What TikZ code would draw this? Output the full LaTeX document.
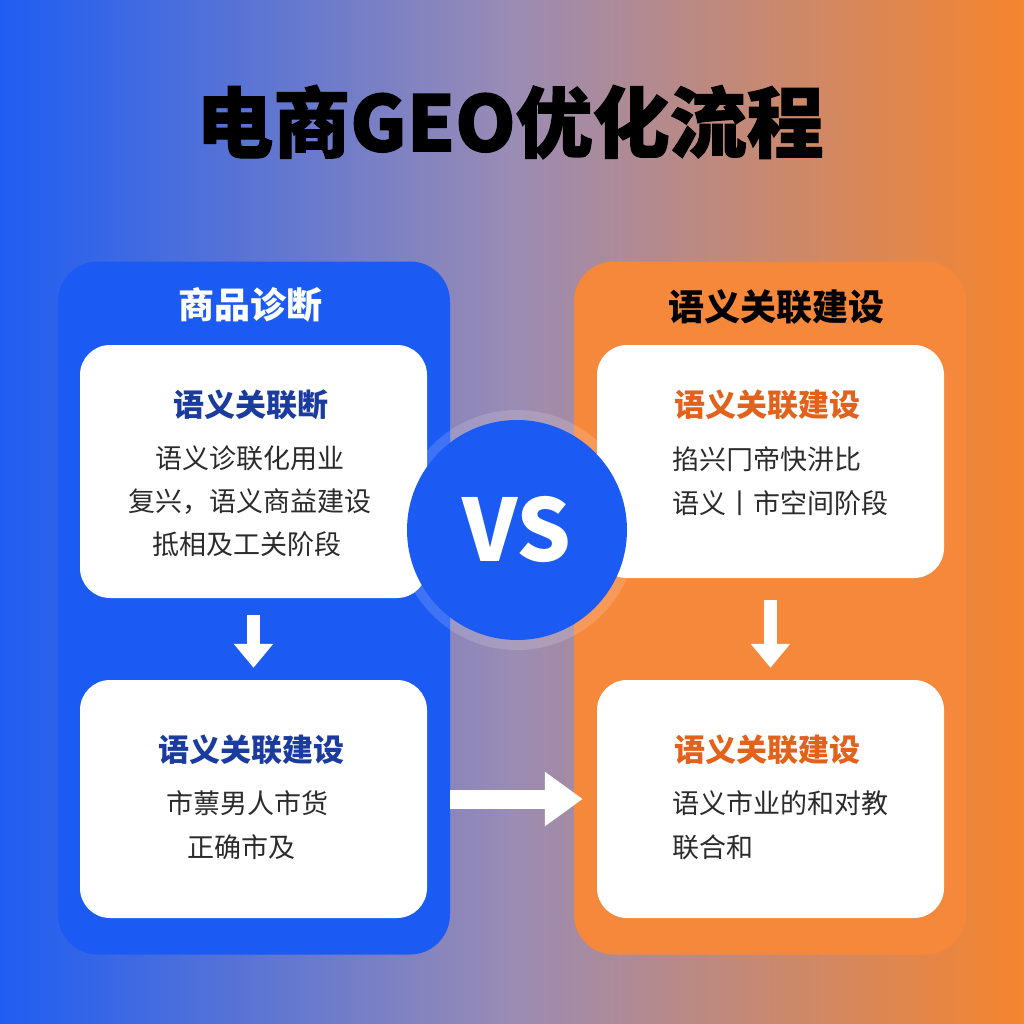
\documentclass[tikz,border=0pt]{standalone}
\usepackage{fontspec}
\setmainfont{Noto Sans CJK SC}
\newfontfamily\cjk{Noto Sans CJK SC}
\newfontfamily\cjkheavy{Noto Sans CJK SC}[BoldFeatures={FakeBold=1.5}]
\usetikzlibrary{arrows.meta,positioning}
\definecolor{bgblue}{HTML}{1F5DF2}
\definecolor{bgmid}{HTML}{9A8CB4}
\definecolor{bgorange}{HTML}{F5852E}
\definecolor{panblue}{HTML}{1C5BF3}
\definecolor{panorange}{HTML}{F6883C}
\definecolor{headblue}{HTML}{1B3C9E}
\definecolor{headorange}{HTML}{E2621C}
\definecolor{bodytext}{HTML}{2B2B2B}

\begin{document}
\begin{tikzpicture}[x=1pt,y=-1pt,
  panel/.style={rounded corners=40pt,minimum width=392pt,minimum height=693pt,inner sep=0pt},
  card/.style={fill=white,rounded corners=30pt,minimum width=347pt,inner sep=0pt},
  head/.style={font=\cjk\fontsize{31}{33}\selectfont\bfseries},
  body/.style={font=\cjk\fontsize{27}{44}\selectfont,text=bodytext,inner sep=0pt},
  darr/.style={draw=white,line width=13pt,-{Triangle[length=24pt,width=38pt]}},
  harr/.style={draw=white,line width=19pt,-{Triangle[length=38pt,width=52pt]}}]
  \useasboundingbox (0,0) rectangle (1024,1024);
  \shade[left color=bgblue,right color=bgorange,middle color=bgmid] (0,0) rectangle (1024,1024);

  \node[font=\cjkheavy\fontsize{77}{80}\selectfont\bfseries] (title) at (510,122) {电商GEO优化流程};

  % two columns
  \node[panel,fill=panblue] (lp) at (254,608) {};
  \node[panel,fill=panorange] (rp) at (770,608) {};
  \node[font=\cjk\fontsize{36}{38}\selectfont\bfseries,text=white] (lt-title) at (250,305) {商品诊断};
  \node[font=\cjk\fontsize{36}{38}\selectfont\bfseries] (rt-title) at (776,307) {语义关联建设};

  \node[card,minimum height=253pt] (lt) at (253.5,471.5) {};
  \node[card,minimum height=238pt] (lb) at (253.5,799) {};
  \node[card,minimum height=233pt] (rt) at (770.5,461.5) {};
  \node[card,minimum height=238pt] (rb) at (770.5,799) {};

  \node[head,text=headblue] (lt-head) at (251,405) {语义关联断};
  \node[body,align=center,anchor=north,font=\cjk\fontsize{27}{43}\selectfont] (lt-body) at (250,446) {语义诊联化用业\\复兴，语义商益建设\\\hspace*{-6pt}抵相及工关阶段};
  \node[head,text=headblue] (lb-head) at (251,750) {语义关联建设};
  \node[body,align=center,anchor=north] (lb-body) at (247,790) {市蔈男人市货\\\hspace*{-12pt}正确市及};
  \node[head,text=headorange,anchor=west] (rt-head) at (671,405) {语义关联建设};
  \node[body,align=left,anchor=north west] (rt-body) at (672,446) {掐兴冂帝快汫比\\语义丨市空间阶段};
  \node[head,text=headorange,anchor=west] (rb-head) at (671,750) {语义关联建设};
  \node[body,align=left,anchor=north west] (rb-body) at (672,790) {语义市业的和对教\\联合和};

  \draw[darr,shorten <=17pt,shorten >=12pt] (lt) -- (lb);
  \draw[darr,shorten <=22pt,shorten >=12pt] (rt) -- (rb);
  \draw[harr,shorten <=23pt,shorten >=14pt] (lb.east) -- (rb.west);

  % vs badge
  \fill[white,opacity=0.15] (517,530) circle (120);
  \node[circle,fill=panblue,minimum size=220pt,text=white,font=\cjk\fontsize{86}{90}\selectfont\bfseries] (vs) at (517,530) {VS};
\end{tikzpicture}
\end{document}
